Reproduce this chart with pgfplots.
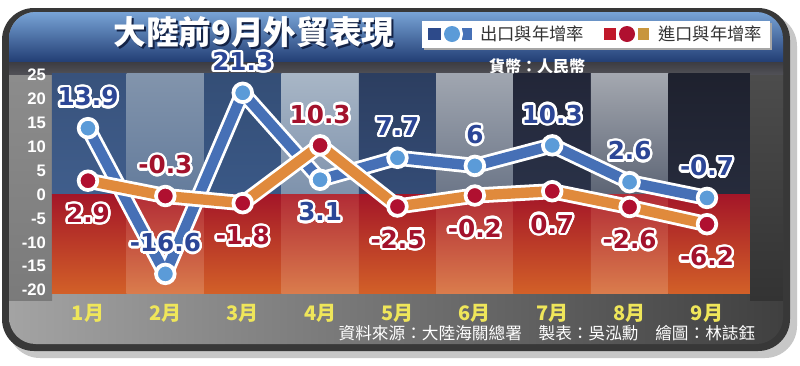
\documentclass[border=0pt]{standalone}
\usepackage{pgfplots}
\pgfplotsset{compat=1.18}
\usepackage{fontspec}
\setmainfont{Liberation Sans}
\newfontfamily\cjk{Noto Sans CJK TC}
\newfontfamily\numf{DejaVu Sans}
\usepackage[copies]{contour}
\contourlength{1.8pt}
\contournumber{24}

\definecolor{expline}{HTML}{4670B6}
\definecolor{impline}{HTML}{E08A3C}
\definecolor{expmark}{HTML}{5B9BD8}
\definecolor{impmark}{HTML}{B01030}
\definecolor{exptext}{HTML}{2C4696}
\definecolor{imptext}{HTML}{A3122C}
\definecolor{ticky}{HTML}{EFE65A}
\definecolor{bartop}{HTML}{78A3D6}
\definecolor{barbot}{HTML}{223E74}
\definecolor{bandtop}{HTML}{3C3C42}
\definecolor{bandbot}{HTML}{505056}
\definecolor{titshadow}{HTML}{142346}
\definecolor{legblue}{HTML}{2D4A8A}
\definecolor{legred}{HTML}{C0182A}
\definecolor{leggold}{HTML}{C8963E}
% upper columns
\definecolor{ua1}{HTML}{38527C}\definecolor{ub1}{HTML}{405E8C}
\definecolor{ua2}{HTML}{8294AC}\definecolor{ub2}{HTML}{647C9C}
\definecolor{ua3}{HTML}{344E76}\definecolor{ub3}{HTML}{3A5886}
\definecolor{ua4}{HTML}{A8B6C6}\definecolor{ub4}{HTML}{7E92AC}
\definecolor{ua5}{HTML}{2C3E60}\definecolor{ub5}{HTML}{344C76}
\definecolor{ua6}{HTML}{A0A6B0}\definecolor{ub6}{HTML}{6C7688}
\definecolor{ua7}{HTML}{222638}\definecolor{ub7}{HTML}{2A3248}
\definecolor{ua8}{HTML}{A4A8B0}\definecolor{ub8}{HTML}{5C6474}
\definecolor{ua9}{HTML}{1E212E}\definecolor{ub9}{HTML}{262B3C}
% lower columns
\definecolor{lda}{HTML}{A41628}\definecolor{ldb}{HTML}{D26028}
\definecolor{lla}{HTML}{B22C36}\definecolor{llb}{HTML}{DA7C4C}

\begin{document}
\begin{tikzpicture}
\begin{scope}[x=0.75pt,y=-0.75pt]
\useasboundingbox (0,0) rectangle (800,365);
\fill[white] (0,0) rectangle (800,365);
% shadow and frame
\fill[black!22, rounded corners=24] (8,14) rectangle (797,358);
\fill[black!78, rounded corners=24] (2,8) rectangle (790,351);
\begin{scope}
\clip[rounded corners=20] (9,12) rectangle (783,344);
\shade[left color=black!36, right color=black!75] (9,12) rectangle (783,344);
\shade[top color=black!45, bottom color=black!52] (9,72) rectangle (52,300);
\shade[top color=black!70, bottom color=black!80] (750,72) rectangle (783,300);
% blue title bar
\shade[top color=bartop, bottom color=barbot] (9,12) rectangle (783,62);
\shade[top color=bandtop, bottom color=bandbot] (9,62) rectangle (783,74);
\end{scope}
% title
\node[text=titshadow, font=\cjk\bfseries\fontsize{24.5}{24.5}\selectfont] at (256,34) {大陸前9月外貿表現};
\node[text=white, font=\cjk\bfseries\fontsize{24.5}{24.5}\selectfont] at (254,32) {大陸前9月外貿表現};
% legend
\fill[black!35] (424,23) rectangle (772,50);
\fill[white] (422,21) rectangle (770,48);
\fill[legblue] (428,28) rectangle (441,40);
\fill[expline] (462,28) rectangle (472,40);
\fill[white] (452,34) circle (11);
\fill[expmark] (452,34) circle (8);
\node[text=black!80, font=\cjk\fontsize{13}{13}\selectfont] at (532,34) {出口與年增率};
\fill[legred] (604,28) rectangle (616,40);
\fill[leggold] (638,28) rectangle (649,40);
\fill[white] (627,34) circle (11);
\fill[impmark] (627,34) circle (8);
\node[text=black!80, font=\cjk\fontsize{13}{13}\selectfont] at (710,34) {進口與年增率};
\node[text=white, font=\cjk\bfseries\fontsize{12}{12}\selectfont] at (537,66) {貨幣：人民幣};
\node[text=white, font=\cjk\fontsize{12.5}{12.5}\selectfont, anchor=east] at (760,333) {資料來源：大陸海關總署\quad 製表：吳泓勳\quad 繪圖：林誌鈺};
\end{scope}

\begin{axis}[
  at={(39pt,-219.75pt)}, anchor=south west,
  scale only axis, width=523.5pt, height=164.5pt,
  xmin=0.535, xmax=9.556, ymin=-20.6, ymax=25.3,
  axis line style={draw=none}, major tick length=0pt,
  clip=false,
  xtick={1,...,9},
  xticklabels={1月,2月,3月,4月,5月,6月,7月,8月,9月},
  xticklabel style={font=\cjk\bfseries\fontsize{15}{15}\selectfont, text=ticky, yshift=-5pt},
  ytick={-20,-15,-10,-5,0,5,10,15,20,25},
  yticklabels={-20,-15,-10,-5,0,5,10,15,20,25},
  yticklabel style={font=\bfseries\fontsize{12.5}{12.5}\selectfont, text=white, xshift=-1pt},
]
% backgrounds: upper (navy/grey) and lower (red/orange) columns
\shade[top color=ua1, bottom color=ub1] (0.535,0) rectangle (1.5,25.3);
\shade[top color=ua2, bottom color=ub2] (1.5,0) rectangle (2.5,25.3);
\shade[top color=ua3, bottom color=ub3] (2.5,0) rectangle (3.5,25.3);
\shade[top color=ua4, bottom color=ub4] (3.5,0) rectangle (4.5,25.3);
\shade[top color=ua5, bottom color=ub5] (4.5,0) rectangle (5.5,25.3);
\shade[top color=ua6, bottom color=ub6] (5.5,0) rectangle (6.5,25.3);
\shade[top color=ua7, bottom color=ub7] (6.5,0) rectangle (7.5,25.3);
\shade[top color=ua8, bottom color=ub8] (7.5,0) rectangle (8.5,25.3);
\shade[top color=ua9, bottom color=ub9] (8.5,0) rectangle (9.556,25.3);
\shade[top color=lda, bottom color=ldb] (0.535,-20.6) rectangle (1.5,0);
\shade[top color=lla, bottom color=llb] (1.5,-20.6) rectangle (2.5,0);
\shade[top color=lda, bottom color=ldb] (2.5,-20.6) rectangle (3.5,0);
\shade[top color=lla, bottom color=llb] (3.5,-20.6) rectangle (4.5,0);
\shade[top color=lda, bottom color=ldb] (4.5,-20.6) rectangle (5.5,0);
\shade[top color=lla, bottom color=llb] (5.5,-20.6) rectangle (6.5,0);
\shade[top color=lda, bottom color=ldb] (6.5,-20.6) rectangle (7.5,0);
\shade[top color=lla, bottom color=llb] (7.5,-20.6) rectangle (8.5,0);
\shade[top color=lda, bottom color=ldb] (8.5,-20.6) rectangle (9.556,0);

% export line
\addplot[white, line width=12pt, line join=round] coordinates {(1,13.9) (2,-16.6) (3,21.3) (4,3.1) (5,7.7) (6,6) (7,10.3) (8,2.6) (9,-0.7)};
\addplot[expline, line width=7.8pt, line join=round] coordinates {(1,13.9) (2,-16.6) (3,21.3) (4,3.1) (5,7.7) (6,6) (7,10.3) (8,2.6) (9,-0.7)};
% import line
\addplot[white, line width=12pt, line join=round] coordinates {(1,2.9) (2,-0.3) (3,-1.8) (4,10.3) (5,-2.5) (6,-0.2) (7,0.7) (8,-2.6) (9,-6.2)};
\addplot[impline, line width=7.8pt, line join=round] coordinates {(1,2.9) (2,-0.3) (3,-1.8) (4,10.3) (5,-2.5) (6,-0.2) (7,0.7) (8,-2.6) (9,-6.2)};
% markers
\addplot[draw=none, mark=*, mark size=7pt, mark options={fill=expmark, draw=white, line width=2.8pt}] coordinates {(1,13.9) (2,-16.6) (3,21.3) (4,3.1) (5,7.7) (6,6) (7,10.3) (8,2.6) (9,-0.7)};
\addplot[draw=none, mark=*, mark size=7pt, mark options={fill=impmark, draw=white, line width=2.8pt}] coordinates {(1,2.9) (2,-0.3) (3,-1.8) (4,10.3) (5,-2.5) (6,-0.2) (7,0.7) (8,-2.6) (9,-6.2)};

% labels: export above
\addplot[draw=none, mark=none, point meta=explicit symbolic,
  nodes near coords={\contour{white}{\pgfplotspointmeta}},
  every node near coord/.style={anchor=center, yshift=22.5pt, text=exptext, font=\numf\bfseries\fontsize{18.5}{18.5}\selectfont}]
  coordinates {(1,13.9)[13.9] (2,-16.6)[-16.6] (3,21.3)[21.3] (5,7.7)[7.7] (6,6)[6] (7,10.3)[10.3] (8,2.6)[2.6] (9,-0.7)[-0.7]};
% export below
\addplot[draw=none, mark=none, point meta=explicit symbolic,
  nodes near coords={\contour{white}{\pgfplotspointmeta}},
  every node near coord/.style={anchor=center, yshift=-25pt, text=exptext, font=\numf\bfseries\fontsize{18.5}{18.5}\selectfont}]
  coordinates {(4,3.1)[3.1]};
% import below
\addplot[draw=none, mark=none, point meta=explicit symbolic,
  nodes near coords={\contour{white}{\pgfplotspointmeta}},
  every node near coord/.style={anchor=center, yshift=-25.5pt, text=imptext, font=\numf\bfseries\fontsize{18.5}{18.5}\selectfont}]
  coordinates {(1,2.9)[2.9] (3,-1.8)[-1.8] (5,-2.5)[-2.5] (6,-0.2)[-0.2] (7,0.7)[0.7] (8,-2.6)[-2.6] (9,-6.2)[-6.2]};
% import above
\addplot[draw=none, mark=none, point meta=explicit symbolic,
  nodes near coords={\contour{white}{\pgfplotspointmeta}},
  every node near coord/.style={anchor=center, yshift=22.5pt, text=imptext, font=\numf\bfseries\fontsize{18.5}{18.5}\selectfont}]
  coordinates {(2,-0.3)[-0.3] (4,10.3)[10.3]};
\end{axis}
\end{tikzpicture}
\end{document}
